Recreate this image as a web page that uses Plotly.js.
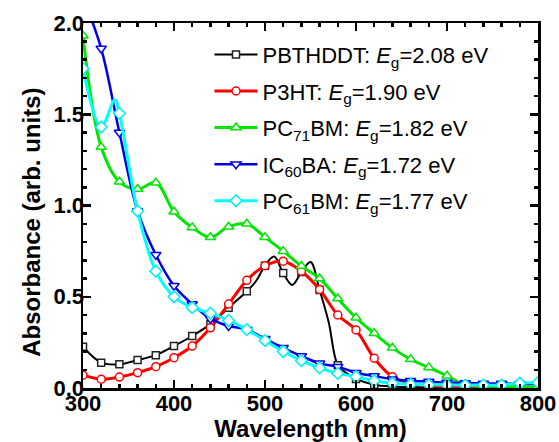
<!DOCTYPE html>
<html>
<head>
<meta charset="utf-8">
<script src="https://cdn.plot.ly/plotly-3.0.1.min.js"></script>
<style>html,body{margin:0;padding:0;background:#fff;}#chart{width:559px;height:442px;}</style>
</head>
<body>
<div id="chart"></div>
<script>
// Wavelength (nm) of the plotted markers
const wavelength = [300,320,340,360,380,400,420,440,460,480,500,520,540,560,580,600,620,640,660,680,700,720,740,760,780,800];

// Absorbance (arb. units) read at each wavelength
const pbthddt = [0.226,0.139,0.13,0.153,0.18,0.23,0.285,0.35,0.44,0.53,0.67,0.63,0.635,0.537,0.125,0.05,0.018,0.008,0.005,0.004,0.003,0.003,0.002,0.002,0.002,0.002];
const p3ht    = [0.07,0.048,0.06,0.084,0.117,0.166,0.23,0.33,0.46,0.59,0.67,0.695,0.64,0.54,0.40,0.318,0.163,0.062,0.025,0.012,0.008,0.006,0.005,0.004,0.004,0.004];
const pc71bm  = [1.93,1.32,1.13,1.09,1.125,0.966,0.88,0.826,0.884,0.90,0.826,0.75,0.668,0.60,0.49,0.385,0.30,0.22,0.157,0.113,0.067,0.018,0.012,0.009,0.007,0.006];
const ic60ba  = [2.14,1.86,1.40,0.97,0.73,0.56,0.46,0.38,0.34,0.32,0.27,0.22,0.175,0.135,0.117,0.084,0.066,0.048,0.04,0.035,0.03,0.027,0.025,0.024,0.023,0.022];
const pc61bm  = [1.75,1.43,1.505,0.97,0.64,0.50,0.44,0.41,0.37,0.32,0.26,0.20,0.15,0.11,0.08,0.062,0.04,0.026,0.02,0.018,0.017,0.016,0.016,0.016,0.026,0.03];

// Extra spectral points between markers (features of the curves)
const pbthddtExtraWl = [490,510,530,550,570,590];
const pbthddtExtraA  = [0.585,0.72,0.565,0.69,0.36,0.08];
const pc61bmExtraWl  = [335];
const pc61bmExtraA   = [1.58];

const names = [
  'PBTHDDT: <i>E</i><sub>g</sub>=2.08 eV',
  'P3HT: <i>E</i><sub>g</sub>=1.90 eV',
  'PC<sub>71</sub>BM: <i>E</i><sub>g</sub>=1.82 eV',
  'IC<sub>60</sub>BA: <i>E</i><sub>g</sub>=1.72 eV',
  'PC<sub>61</sub>BM: <i>E</i><sub>g</sub>=1.77 eV'
];

function merge(xa, ya, xe, ye) {
  const pts = xa.map((x, i) => [x, ya[i]]).concat(xe.map((x, i) => [x, ye[i]]));
  pts.sort((a, b) => a[0] - b[0]);
  return {x: pts.map(p => p[0]), y: pts.map(p => p[1])};
}

const series = [
  {vals: pbthddt, ex: [pbthddtExtraWl, pbthddtExtraA], color: '#000000', mline: '#222222', lw: 2, sym: 'square', ms: 7},
  {vals: p3ht, ex: [[], []], color: '#ff0000', mline: '#ff0000', lw: 3, sym: 'circle', ms: 8},
  {vals: pc71bm, ex: [[], []], color: '#00e600', mline: '#00e600', lw: 3, sym: 'triangle-up', ms: 9},
  {vals: ic60ba, ex: [[], []], color: '#0000e6', mline: '#0000e6', lw: 2.5, sym: 'triangle-down', ms: 9},
  {vals: pc61bm, ex: [pc61bmExtraWl, pc61bmExtraA], color: '#00ffff', mline: '#00f0f0', lw: 3, sym: 'diamond', ms: 9}
];

const data = [];
series.forEach((s, i) => {
  const ln = merge(wavelength, s.vals, s.ex[0], s.ex[1]);
  data.push({x: ln.x, y: ln.y, mode: 'lines', type: 'scatter', showlegend: false,
    line: {color: s.color, width: s.lw, shape: 'spline', smoothing: 1}, hoverinfo: 'skip'});
  data.push({x: wavelength, y: s.vals, mode: 'markers', type: 'scatter', showlegend: false,
    marker: {symbol: s.sym, size: s.ms, color: '#ffffff', line: {color: s.mline, width: 1.5}}});
});
series.forEach((s, i) => {
  data.push({x: [null], y: [null], mode: 'lines+markers', type: 'scatter', name: names[i], showlegend: true,
    legendgroup: 'g' + i,
    line: {color: s.color, width: s.lw},
    marker: {symbol: s.sym, size: s.ms, color: '#ffffff', line: {color: s.mline, width: 1.5}}});
});

const FAM = '"Liberation Sans", Arial, sans-serif';
const tickFont = {family: FAM, size: 22, color: '#000', weight: 700};
const titleFont = {family: FAM, size: 24, color: '#000', weight: 700};

const layout = {
  width: 559, height: 442,
  margin: {l: 83, r: 21, t: 23, b: 54, pad: 0},
  paper_bgcolor: '#ffffff', plot_bgcolor: '#ffffff',
  showlegend: true,
  legend: {x: 0.278, y: 0.971, xanchor: 'left', yanchor: 'top', bgcolor: 'rgba(0,0,0,0)', borderwidth: 0,
    itemwidth: 43, traceorder: 'grouped', tracegroupgap: 5,
    font: {family: FAM, size: 22, color: '#000'}},
  xaxis: {
    range: [300, 800], tickvals: [300,400,500,600,700,800], ticks: 'inside', ticklen: 8, tickwidth: 2.5,
    tickcolor: '#000', showline: true, linewidth: 2.5, linecolor: '#000', mirror: 'allticks',
    showgrid: false, zeroline: false, tickfont: tickFont, ticklabelstandoff: -6,
    minor: {dtick: 20, tick0: 300, ticks: 'inside', ticklen: 4, tickwidth: 2.5, tickcolor: '#000', showgrid: false},
    title: {text: 'Wavelength (nm)', font: titleFont, standoff: 3}
  },
  yaxis: {
    range: [0, 2.0], tickvals: [0, 0.5, 1.0, 1.5, 2.0], tickformat: '.1f', ticks: 'inside', ticklen: 8, tickwidth: 2.5,
    tickcolor: '#000', showline: true, linewidth: 2.5, linecolor: '#000', mirror: 'allticks',
    showgrid: false, zeroline: false, tickfont: tickFont, ticklabelstandoff: -8,
    minor: {dtick: 0.1, tick0: 0, ticks: 'inside', ticklen: 4, tickwidth: 2.5, tickcolor: '#000', showgrid: false},
    title: {text: 'Absorbance (arb. units)&nbsp;&nbsp;&nbsp;&nbsp;&nbsp;', font: titleFont, standoff: 6}
  }
};

Plotly.newPlot('chart', data, layout, {displayModeBar: false, staticPlot: true});
</script>
</body>
</html>
